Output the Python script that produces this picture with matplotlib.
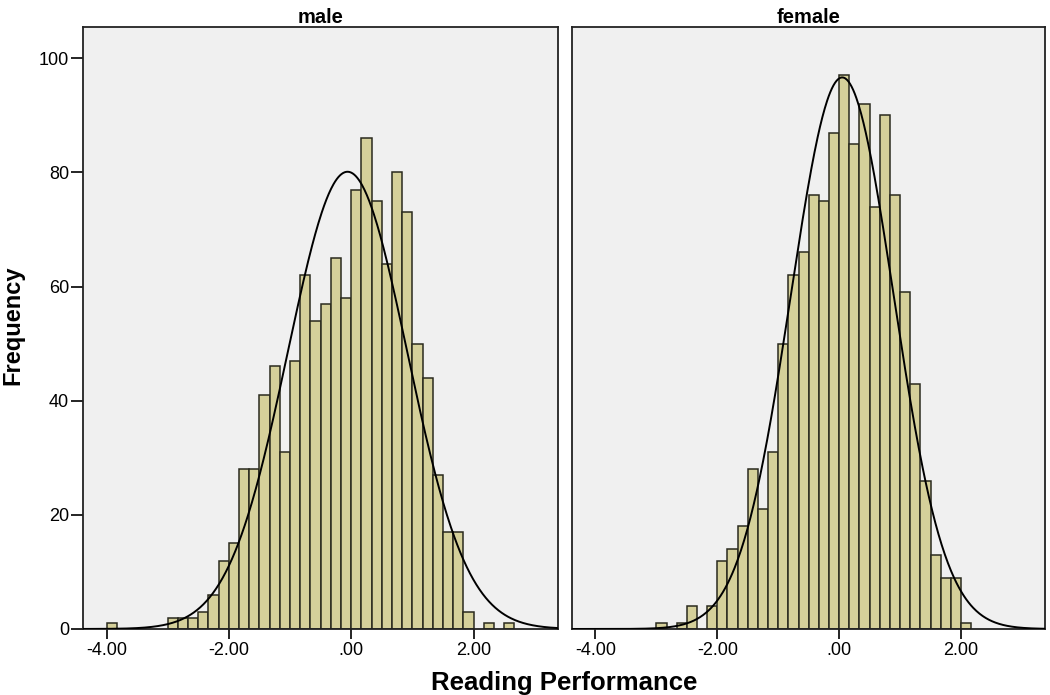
import numpy as np
import matplotlib
matplotlib.use("Agg")
import matplotlib.pyplot as plt

plt.rcParams['font.family'] = ['Liberation Sans', 'DejaVu Sans']

# ---- data ----
panel_titles = ["male", "female"]
bin_start = -4.0
bin_width = 1.0 / 6.0

# counts per bin, first bin starts at -4.00, width 1/6
male_counts = [1, 0, 0, 0, 0, 0,
               2, 2, 2, 3, 6, 12, 15, 28, 28, 41, 46, 31, 47, 62, 54, 57, 65, 58,
               77, 86, 75, 64, 80, 73, 50, 44, 27, 17, 17, 3,
               0, 1, 0, 1]
female_counts = [0, 0, 0, 0, 0, 0,
                 1, 0, 1, 4, 0, 4, 12, 14, 18, 28, 21, 31, 50, 62, 66, 76, 75, 87,
                 97, 85, 92, 74, 90, 76, 59, 43, 26, 13, 9, 9,
                 1]

# normal-curve parameters
male_mean, male_sd = -0.06, 0.975
female_mean, female_sd = 0.05, 0.842

x_ticks = [-4, -2, 0, 2]
x_ticklabels = ["-4.00", "-2.00", ".00", "2.00"]
y_ticks = [0, 20, 40, 60, 80, 100]

# ---- figure ----
fig = plt.figure(figsize=(10.5, 6.95), dpi=100)
bg = "#F0F0F0"
bar_fc = "#D5D09A"
bar_ec = "#2A2A1E"

ax_left = fig.add_axes([0.0790, 0.0950, 0.4524, 0.8662])
ax_right = fig.add_axes([0.5448, 0.0950, 0.4505, 0.8662])
axes = [ax_left, ax_right]
series = [(male_counts, male_mean, male_sd), (female_counts, female_mean, female_sd)]

xlim = (-4.385, 3.38)
for i, (ax, (counts, mu, sd)) in enumerate(zip(axes, series)):
    counts = np.array(counts)
    edges = bin_start + np.arange(len(counts)) * bin_width
    mask = counts > 0
    ax.set_facecolor(bg)
    ax.bar(edges[mask], counts[mask], width=bin_width, align='edge',
           facecolor=bar_fc, edgecolor=bar_ec, linewidth=1.1, zorder=2)
    n = counts.sum()
    xs = np.linspace(xlim[0], xlim[1], 600)
    ys = n * bin_width * np.exp(-0.5 * ((xs - mu) / sd) ** 2) / (sd * np.sqrt(2 * np.pi))
    ax.plot(xs, ys, color="black", linewidth=1.4, zorder=3)
    ax.set_xlim(*xlim)
    ax.set_ylim(0, 105.5)
    ax.set_xticks(x_ticks)
    ax.set_xticklabels(x_ticklabels, fontsize=13)
    ax.tick_params(axis='x', direction='out', length=7.5, width=1.2, pad=2)
    for s in ax.spines.values():
        s.set_linewidth(1.3)
        s.set_color("#222222")
    ax.set_title(panel_titles[i], fontsize=14.5, fontweight='bold', pad=3)
    if i == 0:
        ax.set_yticks(y_ticks)
        ax.set_yticklabels([str(v) for v in y_ticks], fontsize=13)
        ax.tick_params(axis='y', direction='out', length=8.5, width=1.2, pad=1.5)
    else:
        ax.set_yticks([])

fig.text(0.0125, 0.532, "Frequency", rotation=90, fontsize=17, fontweight='bold',
         ha='center', va='center')
fig.text(0.537, 0.0175, "Reading Performance", fontsize=18.5, fontweight='bold',
         ha='center', va='center')

fig.savefig("out.png", dpi=100, facecolor="white")
